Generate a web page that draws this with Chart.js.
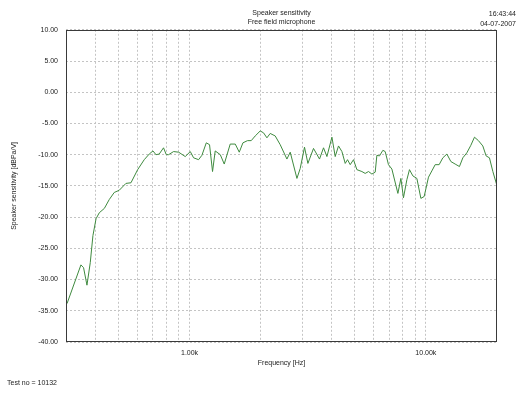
<!DOCTYPE html>
<html>
<head>
<meta charset="utf-8">
<script src="https://cdn.jsdelivr.net/npm/chart.js@4"></script>
<style>
  html, body { margin: 0; padding: 0; background: #fff; }
  #wrap { position: relative; width: 528px; height: 396px; }
  canvas { position: absolute; left: 0; top: 0; }
  .txt { position: absolute; font-family: "Liberation Sans", Arial, sans-serif; font-size: 7px; color: #222; line-height: 10px; white-space: nowrap; }
</style>
</head>
<body>
<div id="wrap">
  <canvas id="c" width="528" height="396"></canvas>
  <div class="txt" style="right:12px; top:9px; text-align:right;">16:43:44<br>04-07-2007</div>
  <div class="txt" style="left:7px; top:378px;">Test no = 10132</div>
</div>
<script>
const frequencies = [303, 347, 356, 368, 380, 390, 402, 415, 436, 457, 480, 504, 538, 565, 603, 643, 675, 700, 721, 744, 776, 797, 815, 856, 899, 959, 1007, 1040, 1092, 1128, 1177, 1215, 1251, 1284, 1349, 1402, 1486, 1561, 1623, 1682, 1759, 1824, 1896, 1991, 2056, 2125, 2194, 2304, 2419, 2582, 2667, 2847, 2940, 3065, 3168, 3346, 3548, 3689, 3813, 4004, 4134, 4269, 4413, 4557, 4661, 4785, 4941, 5107, 5362, 5537, 5718, 5910, 6103, 6205, 6364, 6578, 6727, 6947, 7181, 7614, 7839, 8040, 8311, 8524, 8810, 9160, 9524, 9835, 10260, 10600, 10950, 11380, 11800, 12270, 12760, 13300, 13870, 14340, 14910, 15500, 16060, 16690, 17420, 17990, 18580, 19210, 19970];
const sensitivity = [-33.85, -27.65, -28.1, -30.9, -27.3, -22.96, -20.26, -19.3, -18.6, -17.2, -16.05, -15.7, -14.6, -14.5, -12.4, -10.8, -9.9, -9.4, -10.0, -9.9, -8.9, -10.0, -10.0, -9.5, -9.6, -10.3, -9.5, -10.5, -10.8, -10.1, -8.1, -8.4, -12.7, -9.4, -10.0, -11.5, -8.3, -8.3, -9.6, -8.1, -7.75, -7.75, -7.0, -6.2, -6.5, -7.3, -6.6, -7.0, -8.4, -10.7, -9.6, -13.8, -12.2, -8.8, -11.4, -9.0, -10.7, -8.9, -10.3, -7.2, -10.3, -8.6, -9.5, -11.4, -10.8, -11.6, -10.8, -12.4, -12.7, -13.0, -12.7, -13.1, -12.8, -10.1, -10.2, -9.3, -9.5, -11.6, -12.3, -16.2, -13.8, -16.9, -14.0, -12.4, -13.4, -13.8, -17.0, -16.7, -13.6, -12.6, -11.6, -11.6, -10.5, -9.9, -11.1, -11.5, -11.9, -10.5, -9.7, -8.5, -7.2, -7.75, -8.6, -10.2, -10.5, -12.7, -14.9];
const xGridValues = [400, 500, 600, 700, 800, 900, 1000, 2000, 3000, 4000, 5000, 6000, 7000, 8000, 9000, 10000];
const xTickLabels = {1000: '1.00k', 10000: '10.00k'};

const FONT = { family: '"Liberation Sans", Arial, sans-serif', size: 7 };

const framePlugin = {
  id: 'frame',
  afterDatasetsDraw(chart) {
    const a = chart.chartArea, ctx = chart.ctx;
    ctx.save();
    ctx.strokeStyle = '#3a3a3a';
    ctx.lineWidth = 1;
    ctx.strokeRect(Math.round(a.left) + 0.5, Math.round(a.top) + 0.5, Math.round(a.right - a.left) - 1, Math.round(a.bottom - a.top) - 1);
    ctx.restore();
  }
};

new Chart(document.getElementById('c'), {
  type: 'line',
  data: {
    datasets: [{
      data: frequencies.map((f, i) => ({ x: f, y: sensitivity[i] })),
      borderColor: '#3f8a3f',
      borderWidth: 1,
      pointRadius: 0,
      tension: 0,
      fill: false
    }]
  },
  plugins: [framePlugin],
  options: {
    responsive: false,
    animation: false,
    devicePixelRatio: 1,
    layout: { padding: { left: 0, right: 31, top: 0, bottom: 0 } },
    plugins: {
      legend: { display: false },
      tooltip: { enabled: false },
      title: {
        display: true,
        fullSize: false,
        text: ['Speaker sensitivity', 'Free field microphone'],
        font: { ...FONT, weight: 'normal' },
        color: '#222',
        padding: { top: 9, bottom: 4 }
      }
    },
    scales: {
      x: {
        type: 'logarithmic',
        min: 300,
        max: 20000,
        afterBuildTicks: (s) => { s.ticks = xGridValues.map(v => ({ value: v })); },
        afterFit: (s) => { s.height = 54; },
        ticks: {
          autoSkip: false,
          maxRotation: 0,
          padding: 7,
          font: FONT,
          color: '#222',
          callback: (v) => xTickLabels[v] || ''
        },
        grid: { color: '#c4c4c4', drawTicks: false, tickBorderDash: [2, 2] },
        border: { display: false, dash: [2, 2] },
        title: {
          display: true,
          text: 'Frequency [Hz]',
          font: FONT,
          color: '#222',
          padding: { top: 0, bottom: 29 }
        }
      },
      y: {
        min: -40,
        max: 10,
        afterFit: (s) => { s.width = 66; },
        ticks: {
          stepSize: 5,
          padding: 8,
          font: FONT,
          color: '#222',
          callback: (v) => Number(v).toFixed(2)
        },
        grid: { color: '#c4c4c4', drawTicks: false },
        border: { display: false, dash: [2, 2] },
        title: {
          display: true,
          text: 'Speaker sensitivity [dBPa/V]',
          font: FONT,
          color: '#222',
          padding: { top: 10, bottom: 0 }
        }
      }
    }
  }
});
</script>
</body>
</html>
